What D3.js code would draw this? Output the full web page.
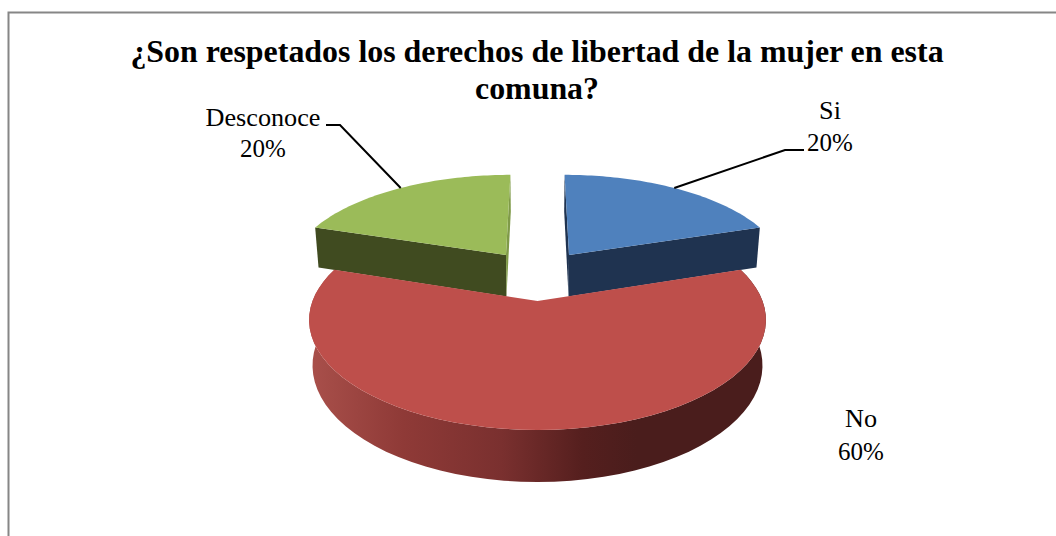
<!DOCTYPE html>
<html>
<head>
	<meta http-equiv="Content-Type" content="text/html;charset=utf-8"/>
	<title>Derechos de libertad</title>
	<script src="https://d3js.org/d3.v7.min.js"></script>
	<style type="text/css">
		html, body { margin: 0; padding: 0; background: #fff; }
		svg { display: block; }
		text { font-family: "Liberation Serif", "Times New Roman", serif; fill: #000; }
		.title { font-size: 31.9px; font-weight: bold; text-anchor: middle; }
		.label { text-anchor: middle; }
		.name { font-size: 26.2px; }
		.pct { font-size: 25px; }
		.leader { fill: none; stroke: #000; stroke-width: 2px; }
	</style>
</head>
<body>
<svg width="1056" height="536"></svg>

<script type="text/javascript">
var titleLines = ["¿Son respetados los derechos de libertad de la mujer en esta", "comuna?"];
var categories = ["Si", "No", "Desconoce"];
var values = [20, 60, 20];
var percentLabels = ["20%", "60%", "20%"];
var topColors = ["#4f81bd", "#be4f4b", "#9bbb59"];
var cutColors = ["#1f3350", "#4a1d1c", "#404b20"];

var svg = d3.select("svg");

// chart border, the right and bottom sides fall outside the crop
svg.append("path").attr("d", "M8.5,536V12.5H1056").attr("fill", "none").attr("stroke", "#868686").attr("stroke-width", 2);

svg.selectAll("text.title").data(titleLines).enter().append("text")
	.attr("class", "title")
	.attr("x", 537)
	.attr("y", function(d, i) { return 62 + i * 37; })
	.text(function(d) { return d; });

// Perspective view of the pie plane. u goes right, v goes to the viewer,
// measured from the centre of the big slice.
var persp = 0.1727;
var cx = 537.5;
var planes = {
	top: {y: 301, sx: 225, sy: 106.7},
	bottom: {y: 345.3, sx: 221.6, sy: 113.1}
};
function project(u, v, plane) {
	var w = 1 - persp * v;
	return [cx + plane.sx * u / w, plane.y + plane.sy * v / w];
}

var pie = d3.pie().sort(null).value(function(d) { return d; });
var arcs = pie(values);
var explode = 0.2575;
var backRadius = 1.02;

// slice offset, expressed from the big slice which sits at (0,0) in this frame
function sliceCentre(a) {
	var mid = (a.startAngle + a.endAngle) / 2;
	return [explode * Math.sin(mid), -explode * Math.cos(mid) - explode];
}
function rimPoint(a, angle, plane) {
	var c = sliceCentre(a);
	var r = a.index === 1 ? 1 : backRadius;
	return project(c[0] + r * Math.sin(angle), c[1] - r * Math.cos(angle), plane);
}
function apexPoint(a, plane) {
	var c = sliceCentre(a);
	return project(c[0], c[1], plane);
}
function rim(a, plane) {
	return d3.range(0, 61).map(function(i) {
		return rimPoint(a, a.startAngle + (a.endAngle - a.startAngle) * i / 60, plane);
	});
}
var line = d3.line();

var defs = svg.append("defs");
var sideGrad = defs.append("linearGradient").attr("id", "sideGrad")
	.attr("gradientUnits", "userSpaceOnUse")
	.attr("x1", 313).attr("x2", 762).attr("y1", 0).attr("y2", 0);
sideGrad.selectAll("stop")
	.data([[0, "#a84f4a"], [0.2, "#8f3a37"], [0.42, "#7a302f"], [0.6, "#551f1e"], [0.72, "#4a1d1c"], [1, "#4a1d1c"]])
	.enter().append("stop")
	.attr("offset", function(d) { return d[0]; })
	.attr("stop-color", function(d) { return d[1]; });

// the two back slices first, the big one then covers the foot of their cut faces
[0, 2, 1].forEach(function(i) {
	var a = arcs[i];
	if (i === 1) {
		var side = rim(a, planes.top).concat(rim(a, planes.bottom).reverse());
		svg.append("path").attr("d", line(side) + "Z").attr("fill", "url(#sideGrad)");
	} else {
		// cut faces: the one along the start angle and the one along the end angle
		[a.startAngle, a.endAngle].forEach(function(angle) {
			var facing = (i === 0) ? angle === a.endAngle : angle === a.startAngle;
			var quad = [apexPoint(a, planes.top), rimPoint(a, angle, planes.top),
				rimPoint(a, angle, planes.bottom), apexPoint(a, planes.bottom)];
			svg.append("path").attr("d", line(quad) + "Z")
				.attr("fill", facing || i === 0 ? cutColors[i] : "#7f9a48");
		});
	}
	var face = rim(a, planes.top).concat([apexPoint(a, planes.top)]);
	svg.append("path").attr("d", line(face) + "Z").attr("fill", topColors[i]);
});

// leader lines run from the label to a point on the slice rim
var leaderAngles = [0.62, null, 2 * Math.PI - 0.62];
var leaderBends = [[[804, 150], [785, 150]], null, [[326, 125], [340, 125]]];
arcs.forEach(function(a, i) {
	if (!leaderBends[i]) return;
	var pts = leaderBends[i].concat([rimPoint(a, leaderAngles[i], planes.top)]);
	svg.append("path").attr("class", "leader").attr("d", line(pts));
});

var labelPos = [[830, 119, 151], [861, 427, 460], [263, 126, 157]];
categories.forEach(function(c, i) {
	var t = svg.append("text").attr("class", "label");
	t.append("tspan").attr("class", "name").attr("x", labelPos[i][0]).attr("y", labelPos[i][1]).text(c);
	t.append("tspan").attr("class", "pct").attr("x", labelPos[i][0]).attr("y", labelPos[i][2]).text(percentLabels[i]);
});
</script>
</body>
</html>
